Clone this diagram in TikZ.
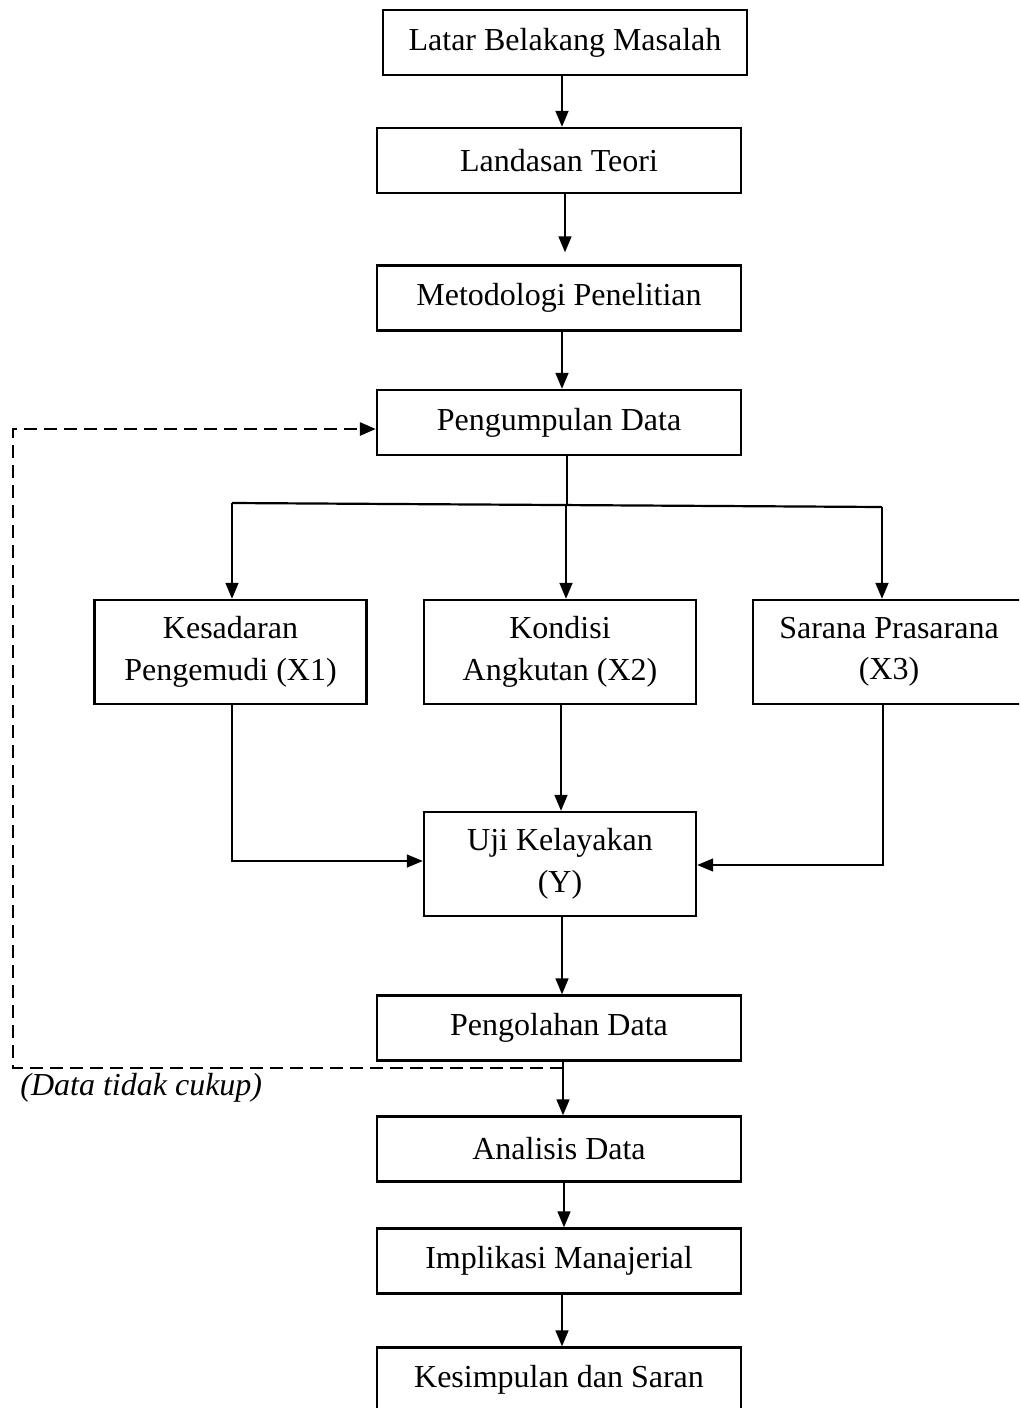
\documentclass[tikz,border=0pt]{standalone}
\usepackage{fontspec}
\setmainfont{Liberation Serif}
\usetikzlibrary{arrows.meta}
\begin{document}
\begin{tikzpicture}[x=0.5pt,y=-0.5pt,
  box/.style={draw, line width=1.2pt, inner sep=0pt, align=center,
    font=\fontsize{16}{20.8}\selectfont},
  wide/.style={box, minimum width=182pt, minimum height=32.5pt},
  tall/.style={box, minimum width=136pt, minimum height=52pt},
  arr/.style={-{Triangle[length=8pt,width=6.5pt]}, line width=0.85pt},
  thin/.style={line width=0.65pt},
  fback/.style={line width=1.4pt, dash pattern=on 6.5pt off 3.5pt,
    -{Triangle[length=8pt,width=6.5pt]}},
  lbl/.style={font=\fontsize{16}{20.8}\selectfont\itshape, inner sep=0pt}]
\useasboundingbox (0,0) rectangle (1019,1408);
\clip (0,0) rectangle (1019,1408);

\node[wide] (b1) at (565,42.5) {Latar Belakang Masalah};
\node[wide] (b2) at (559,160.5) {Landasan Teori};
\node[wide] (b3) at (559,298) {Metodologi Penelitian};
\node[wide] (b4) at (559,422.5) {Pengumpulan Data};
\node[tall] (x1) at (230.5,652) {Kesadaran\\Pengemudi (X1)};
\node[tall] (x2) at (560,652) {Kondisi\\Angkutan (X2)};
\node[tall] (x3) at (889,652) {Sarana Prasarana\\(X3)};
\node[tall] (yy) at (560,864) {Uji Kelayakan\\(Y)};
\node[wide] (p) at (559,1028) {Pengolahan Data};
\node[wide] (a) at (559,1149) {Analisis Data};
\node[wide] (i) at (559,1261) {Implikasi Manajerial};
\node[wide] (k) at (559,1380) {Kesimpulan dan Saran};

\node[lbl, anchor=base west] (lab) at (20,1095) {(Data tidak cukup)};

% main chain
\draw[arr] (562,0 |- b1.south) -- (562,0 |- b2.north);
\draw[arr, shorten >=6pt] (565,0 |- b2.south) -- (565,0 |- b3.north);
\draw[arr] (562,0 |- b3.south) -- (562,0 |- b4.north);

% fork
\coordinate (fl) at (232,503);
\coordinate (fr) at (882,507);
\draw[line width=0.85pt] (567,0 |- b4.south) -- (567,505);
\draw[line width=1.1pt] (fl) -- (fr);
\draw[arr] (fl) -- (232,0 |- x1.north);
\draw[arr] (566,505) -- (566,0 |- x2.north);
\draw[arr] (fr) -- (882,0 |- x3.north);

% into Y
\draw[arr, thin] (232,0 |- x1.south) |- (yy.west |- 0,861);
\draw[arr] (561,0 |- x2.south) -- (561,0 |- yy.north);
\draw[arr, thin] (883,0 |- x3.south) |- (yy.east |- 0,865);

% lower chain
\draw[arr] (562,0 |- yy.south) -- (562,0 |- p.north);
\draw[arr] (563,0 |- p.south) -- (563,0 |- a.north);
\draw[arr] (564,0 |- a.south) -- (564,0 |- i.north);
\draw[arr] (562,0 |- i.south) -- (562,0 |- k.north);

% feedback
\coordinate (fb) at (563,1068);
\draw[fback] (fb) -- (13,1068) -- (13,429) -- (b4.west |- 0,429);
\end{tikzpicture}
\end{document}
